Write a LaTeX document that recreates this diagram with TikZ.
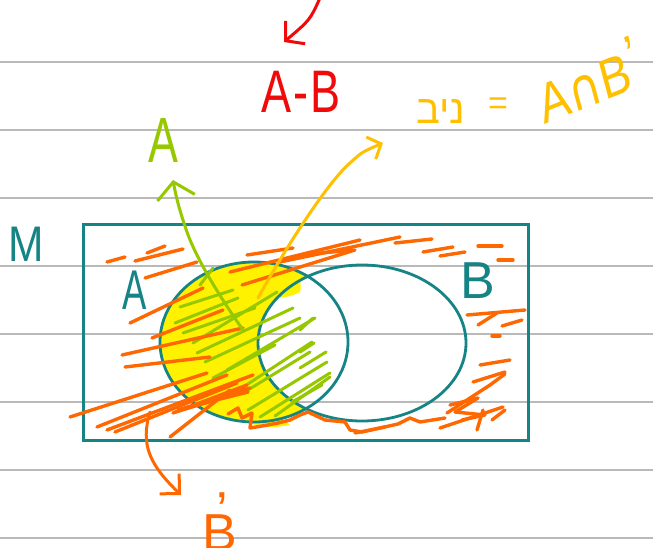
\documentclass[tikz,border=0pt]{standalone}
\usepackage{fontspec}
\setmainfont{Liberation Sans}
\newfontfamily\hebfont[Script=Hebrew]{Liberation Sans}
\newfontfamily\symfont{DejaVu Sans}
\TeXXeTstate=1
\usetikzlibrary{arrows.meta,shapes.geometric}
\definecolor{tealc}{RGB}{22,132,132}
\definecolor{orangec}{RGB}{255,104,0}
\definecolor{greenc}{RGB}{150,200,0}
\definecolor{goldc}{RGB}{255,192,0}
\definecolor{redc}{RGB}{240,10,10}
\definecolor{rulec}{RGB}{185,185,185}
\tikzset{
  ruled/.style={draw=rulec, line width=1.3pt},
  setline/.style={draw=tealc, line width=2.8pt},
  ostroke/.style={draw=orangec, line width=3.4pt, line cap=round, line join=round},
  gstroke/.style={draw=greenc, line width=3pt, line cap=round, line join=round},
  hand/.style={line width=3pt, line cap=round, line join=round},
  lbl/.style={inner sep=0pt, outer sep=0pt},
}
\newcommand{\fsz}[1]{\fontsize{#1}{#1}\selectfont}
\begin{document}
\begin{tikzpicture}[x=1pt,y=-1pt]
\useasboundingbox (0,0) rectangle (653,548);
\fill[white] (0,0) rectangle (653,548);
% ruled lines
\foreach \yy in {62,130,198,266,334,402,470,538}
  \draw[ruled] (0,\yy) -- (653,\yy);
% universe
\node[setline, rectangle, minimum width=445pt, minimum height=216pt, inner sep=0pt, anchor=north west] (U) at (82,223) {};
% yellow region A minus B
\begin{scope}
  \clip (254,342) ellipse [x radius=94, y radius=80];
  \fill[yellow, even odd rule] (254,342) ellipse [x radius=94, y radius=80]
        (362,343) ellipse [x radius=104, y radius=78];
  \fill[yellow] (245,262) .. controls (285,260) and (305,272) .. (300,292)
        .. controls (285,300) and (265,300) .. (250,290) -- cycle;
\end{scope}
\fill[yellow] (225,410) .. controls (245,425) and (265,430) .. (290,425)
      .. controls (280,415) and (250,410) .. (225,410) -- cycle;
% sets
\node[setline, ellipse, minimum width=188pt, minimum height=160pt, inner sep=0pt] (setA) at (254,342) {};
\node[setline, ellipse, minimum width=208pt, minimum height=156pt, inner sep=0pt] (setB) at (362,343) {};
% green hatching
\foreach \p/\q in {{180,307}/{233,290},{175,323}/{238,298},{183,333}/{255,308},{193,343}/{277,292},
  {197,353}/{293,308},{205,362}/{300,318},{227,370}/{315,318},{213,378}/{275,345},{228,397}/{312,342},
  {243,393}/{310,352},{248,410}/{327,362},{260,417}/{330,373},{275,416}/{330,377},{292,402}/{322,385},
  {300,330}/{313,318},{300,352}/{314,343},{300,368}/{326,352},{200,285}/{213,268}}
  \draw[gstroke] (\p) -- (\q);
% orange hatching
\foreach \p/\q in {{107,262}/{125,257},{135,261}/{183,249},{147,253}/{165,246},{145,278}/{197,262},
  {130,323}/{203,288},{152,338}/{223,310},{122,355}/{243,328},{125,367}/{210,357},
  {70,417}/{207,373},{97,427}/{227,375},{107,430}/{253,375},{115,432}/{237,383},
  {173,413}/{247,385},{178,410}/{250,388},{185,408}/{248,392},{170,437}/{230,390},
  {230,272}/{360,240},{247,255}/{293,248},{242,285}/{355,250},{300,255}/{353,250},
  {280,262}/{400,237},{395,243}/{432,239},{423,252}/{453,247},{440,256}/{465,252},
  {478,246}/{502,246},{498,260}/{513,260},
  {467,315}/{525,310},{478,325}/{497,313},{502,326}/{522,320},{492,336}/{500,336},
  {480,365}/{510,360},{473,382}/{505,372},{440,428}/{503,407},{477,430}/{483,410},{492,420}/{505,410}}
  \draw[ostroke] (\p) -- (\q);
\fill[orangec] (175,414) -- (247,384) -- (240,394) -- cycle;
\draw[ostroke] (447,413) -- (490,385) -- (505,374);
\draw[ostroke] (450,405) -- (478,398) -- (455,412) -- (485,415) -- (462,420);
\draw[ostroke] (228,414) -- (238,408) -- (242,418) -- (252,413) -- (250,428) -- (268,425)
  -- (278,423) -- (290,420) -- (300,415) -- (308,412) -- (325,420) -- (345,422) -- (350,430)
  -- (362,432) -- (380,428) -- (398,424) -- (410,418) -- (420,422) -- (445,418);
\draw[ostroke] (355,433) -- (385,427);
% labels
\node[lbl, text=tealc, font=\fsz{50}, xscale=0.85, transform shape] (labM) at (26,244) {M};
\node[lbl, text=tealc, font=\fsz{56}, xscale=0.65, transform shape] (labA) at (135,290) {A};
\node[lbl, text=tealc, font=\fsz{52}] (labB) at (478,281) {B};
\node[lbl, text=redc, font=\fsz{60}, xscale=0.75, transform shape] (labAmB) at (301,92) {A\kern3pt-\kern3pt B};
\node[lbl, text=greenc, font=\fsz{64}, xscale=0.7, transform shape] (labAg) at (163,140) {A};
\node[lbl, text=goldc, font=\fsz{40}] (labHeb) at (441,112) {\hebfont\beginR ניב\endR};
\node[lbl, text=goldc, font=\fsz{34}] (labEq) at (498,106) {=};
\node[lbl, text=goldc, font=\fsz{56}, xscale=0.82, rotate=18, transform shape] (labAnB) at (588,80) {A{\symfont ∩}B\raisebox{14pt}{'}};
\node[lbl, text=orangec, font=\fsz{52}, anchor=base west] (labBp) at (202,550) {\rlap{\kern14pt\raisebox{22pt}{'}}B};
% arrows
\coordinate (rs) at (320,-2);
\coordinate (rt) at (284,42);
\draw[redc, hand, -{Straight Barb[length=13pt,width=30pt]}] (rs) .. controls (310,20) .. (rt);
\coordinate (gs) at (243,330);
\coordinate (gt) at (173,180);
\draw[greenc, hand, -{Straight Barb[length=16pt,width=38pt]}] (gs) .. controls (215,290) and (195,255) .. (187,232)
   .. controls (180,212) and (176,197) .. (gt);
\coordinate (ys) at (258,298);
\coordinate (yt) at (383,143);
\draw[goldc, hand, -{Straight Barb[length=11pt,width=24pt]}] (ys) .. controls (290,240) and (330,180) .. (350,163)
   .. controls (362,152) .. (yt);
\coordinate (os) at (150,412);
\coordinate (ot) at (181,495);
\draw[orangec, hand, -{Straight Barb[length=14pt,width=28pt]}] (os) .. controls (140,445) and (150,465) .. (ot);
\end{tikzpicture}
\end{document}
